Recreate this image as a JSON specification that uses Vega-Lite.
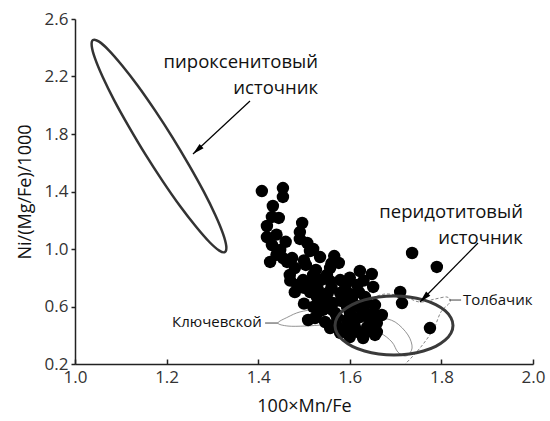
{
  "$schema": "https://vega.github.io/schema/vega-lite/v6.json",
  "autosize": {"type": "none"},
  "padding": {"left": 75, "top": 19, "right": 17, "bottom": 57},
  "width": 458,
  "height": 345,
  "background": "white",
  "config": {
    "view": {"stroke": null},
    "font": "Open Sans",
    "axis": {
      "domainColor": "#222",
      "tickColor": "#222",
      "domainWidth": 1.5,
      "tickWidth": 1.5,
      "grid": false,
      "labelFont": "Open Sans",
      "labelFontSize": 17,
      "labelColor": "#333",
      "titleFont": "Open Sans",
      "titleFontSize": 18,
      "titleFontWeight": "normal",
      "titleColor": "#111"
    }
  },
  "datasets": {
    "olivine": [
      {"x": 1.408, "y": 1.403}, {"x": 1.454, "y": 1.424}, {"x": 1.454, "y": 1.362}, {"x": 1.432, "y": 1.299},
      {"x": 1.430, "y": 1.223}, {"x": 1.445, "y": 1.216}, {"x": 1.419, "y": 1.160}, {"x": 1.419, "y": 1.083},
      {"x": 1.430, "y": 1.028}, {"x": 1.448, "y": 0.993}, {"x": 1.426, "y": 0.910}, {"x": 1.454, "y": 0.937},
      {"x": 1.474, "y": 0.937}, {"x": 1.496, "y": 1.181}, {"x": 1.491, "y": 1.118}, {"x": 1.491, "y": 1.070},
      {"x": 1.507, "y": 1.042}, {"x": 1.513, "y": 0.986}, {"x": 1.535, "y": 0.944}, {"x": 1.566, "y": 0.951},
      {"x": 1.480, "y": 0.868}, {"x": 1.504, "y": 0.889}, {"x": 1.526, "y": 0.854}, {"x": 1.557, "y": 0.868},
      {"x": 1.576, "y": 0.903}, {"x": 1.622, "y": 0.847}, {"x": 1.648, "y": 0.826}, {"x": 1.651, "y": 0.736},
      {"x": 1.633, "y": 0.666}, {"x": 1.498, "y": 0.784}, {"x": 1.517, "y": 0.750}, {"x": 1.537, "y": 0.784},
      {"x": 1.557, "y": 0.777}, {"x": 1.579, "y": 0.784}, {"x": 1.528, "y": 0.666}, {"x": 1.552, "y": 0.694},
      {"x": 1.579, "y": 0.694}, {"x": 1.600, "y": 0.687}, {"x": 1.520, "y": 0.597}, {"x": 1.541, "y": 0.576},
      {"x": 1.563, "y": 0.624}, {"x": 1.594, "y": 0.597}, {"x": 1.616, "y": 0.603}, {"x": 1.638, "y": 0.624},
      {"x": 1.509, "y": 0.506}, {"x": 1.546, "y": 0.492}, {"x": 1.572, "y": 0.527}, {"x": 1.594, "y": 0.506},
      {"x": 1.622, "y": 0.527}, {"x": 1.651, "y": 0.555}, {"x": 1.670, "y": 0.541}, {"x": 1.579, "y": 0.416},
      {"x": 1.600, "y": 0.388}, {"x": 1.629, "y": 0.381}, {"x": 1.594, "y": 0.457}, {"x": 1.638, "y": 0.457},
      {"x": 1.659, "y": 0.485}, {"x": 1.710, "y": 0.701}, {"x": 1.714, "y": 0.624}, {"x": 1.736, "y": 0.972},
      {"x": 1.790, "y": 0.875}, {"x": 1.775, "y": 0.450}, {"x": 1.485, "y": 0.750}, {"x": 1.463, "y": 0.910},
      {"x": 1.605, "y": 0.659}, {"x": 1.659, "y": 0.423}, {"x": 1.557, "y": 0.450}, {"x": 1.535, "y": 0.645},
      {"x": 1.616, "y": 0.750}, {"x": 1.590, "y": 0.750}, {"x": 1.469, "y": 0.819}, {"x": 1.513, "y": 0.701},
      {"x": 1.568, "y": 0.555}, {"x": 1.524, "y": 0.520}, {"x": 1.611, "y": 0.457}, {"x": 1.644, "y": 0.506},
      {"x": 1.655, "y": 0.610}, {"x": 1.655, "y": 0.402},
      {"x": 1.470, "y": 0.780}, {"x": 1.500, "y": 0.730}, {"x": 1.530, "y": 0.720}, {"x": 1.560, "y": 0.730},
      {"x": 1.590, "y": 0.720}, {"x": 1.620, "y": 0.700}, {"x": 1.550, "y": 0.640}, {"x": 1.580, "y": 0.640},
      {"x": 1.600, "y": 0.630}, {"x": 1.530, "y": 0.560}, {"x": 1.560, "y": 0.580}, {"x": 1.600, "y": 0.560},
      {"x": 1.630, "y": 0.570}, {"x": 1.570, "y": 0.480}, {"x": 1.610, "y": 0.490}, {"x": 1.620, "y": 0.420},
      {"x": 1.580, "y": 0.440}, {"x": 1.640, "y": 0.430}, {"x": 1.520, "y": 0.820}, {"x": 1.550, "y": 0.820},
      {"x": 1.500, "y": 0.920}, {"x": 1.440, "y": 1.100}, {"x": 1.460, "y": 1.050}, {"x": 1.440, "y": 0.960},
      {"x": 1.520, "y": 1.000}, {"x": 1.560, "y": 0.900}, {"x": 1.600, "y": 0.800}, {"x": 1.630, "y": 0.780},
      {"x": 1.500, "y": 0.620}, {"x": 1.480, "y": 0.700}
    ],
    "pyroxenite": [
      {"i": 0, "x": 1.3275, "y": 0.979}, {"i": 1, "x": 1.3303, "y": 1.0195}, {"i": 2, "x": 1.3231, "y": 1.107},
      {"i": 3, "x": 1.3063, "y": 1.2365}, {"i": 4, "x": 1.2812, "y": 1.3986}, {"i": 5, "x": 1.2493, "y": 1.5816},
      {"i": 6, "x": 1.2131, "y": 1.775}, {"i": 7, "x": 1.1747, "y": 1.9642}, {"i": 8, "x": 1.1371, "y": 2.136},
      {"i": 9, "x": 1.1024, "y": 2.2786}, {"i": 10, "x": 1.0734, "y": 2.3843}, {"i": 11, "x": 1.0517, "y": 2.4442},
      {"i": 12, "x": 1.0393, "y": 2.4539}, {"i": 13, "x": 1.0365, "y": 2.4136}, {"i": 14, "x": 1.0437, "y": 2.3259},
      {"i": 15, "x": 1.0605, "y": 2.1965}, {"i": 16, "x": 1.0856, "y": 2.0344}, {"i": 17, "x": 1.1175, "y": 1.8515},
      {"i": 18, "x": 1.1537, "y": 1.6581}, {"i": 19, "x": 1.1921, "y": 1.4689}, {"i": 20, "x": 1.2297, "y": 1.297},
      {"i": 21, "x": 1.2644, "y": 1.1544}, {"i": 22, "x": 1.2934, "y": 1.0487}, {"i": 23, "x": 1.3151, "y": 0.9889}
    ],
    "peridotite": [
      {"i": 0, "x": 1.8253, "y": 0.468}, {"i": 1, "x": 1.8209, "y": 0.5211}, {"i": 2, "x": 1.8080, "y": 0.5706},
      {"i": 3, "x": 1.7876, "y": 0.6131}, {"i": 4, "x": 1.7609, "y": 0.6457}, {"i": 5, "x": 1.7299, "y": 0.6662},
      {"i": 6, "x": 1.6965, "y": 0.6732}, {"i": 7, "x": 1.6631, "y": 0.6662}, {"i": 8, "x": 1.6321, "y": 0.6457},
      {"i": 9, "x": 1.6054, "y": 0.6131}, {"i": 10, "x": 1.5850, "y": 0.5706}, {"i": 11, "x": 1.5721, "y": 0.5211},
      {"i": 12, "x": 1.5677, "y": 0.468}, {"i": 13, "x": 1.5721, "y": 0.4149}, {"i": 14, "x": 1.5850, "y": 0.3654},
      {"i": 15, "x": 1.6054, "y": 0.3229}, {"i": 16, "x": 1.6321, "y": 0.2903}, {"i": 17, "x": 1.6631, "y": 0.2698},
      {"i": 18, "x": 1.6965, "y": 0.2628}, {"i": 19, "x": 1.7299, "y": 0.2698}, {"i": 20, "x": 1.7609, "y": 0.2903},
      {"i": 21, "x": 1.7876, "y": 0.3229}, {"i": 22, "x": 1.8080, "y": 0.3654}, {"i": 23, "x": 1.8209, "y": 0.4149}
    ],
    "klyuchevskoy": [
      {"i": 0, "x": 1.443, "y": 0.485}, {"i": 1, "x": 1.465, "y": 0.527}, {"i": 2, "x": 1.491, "y": 0.562},
      {"i": 3, "x": 1.524, "y": 0.576}, {"i": 4, "x": 1.557, "y": 0.555}, {"i": 5, "x": 1.590, "y": 0.520},
      {"i": 6, "x": 1.627, "y": 0.506}, {"i": 7, "x": 1.666, "y": 0.520}, {"i": 8, "x": 1.699, "y": 0.492},
      {"i": 9, "x": 1.727, "y": 0.402}, {"i": 10, "x": 1.736, "y": 0.311}, {"i": 11, "x": 1.723, "y": 0.256},
      {"i": 12, "x": 1.705, "y": 0.283}, {"i": 13, "x": 1.692, "y": 0.353}, {"i": 14, "x": 1.666, "y": 0.416},
      {"i": 15, "x": 1.627, "y": 0.450}, {"i": 16, "x": 1.590, "y": 0.464}, {"i": 17, "x": 1.546, "y": 0.471},
      {"i": 18, "x": 1.502, "y": 0.464}, {"i": 19, "x": 1.465, "y": 0.464}
    ],
    "tolbachik": [
      {"i": 0, "x": 1.640, "y": 0.645}, {"i": 1, "x": 1.677, "y": 0.687}, {"i": 2, "x": 1.721, "y": 0.666},
      {"i": 3, "x": 1.753, "y": 0.631}, {"i": 4, "x": 1.786, "y": 0.652}, {"i": 5, "x": 1.812, "y": 0.666},
      {"i": 6, "x": 1.819, "y": 0.631}, {"i": 7, "x": 1.799, "y": 0.562}, {"i": 8, "x": 1.784, "y": 0.450},
      {"i": 9, "x": 1.762, "y": 0.346}, {"i": 10, "x": 1.740, "y": 0.263}, {"i": 11, "x": 1.721, "y": 0.200}
    ],
    "leaders": [
      {"x": 1.415, "y": 0.485, "x2": 1.443, "y2": 0.485},
      {"x": 1.817, "y": 0.645, "x2": 1.843, "y2": 0.645}
    ],
    "arrows": [
      {"name": "pyro", "x": 1.3821, "y": 2.0296, "x2": 1.2576, "y2": 1.6609},
      {"name": "perido", "x": 1.8799, "y": 1.0417, "x2": 1.7533, "y2": 0.6313}
    ],
    "bigLabels": [
      {"x": 1.5306, "y": 2.3009, "label": "пироксенитовый"},
      {"x": 1.5306, "y": 2.12, "label": "источник"},
      {"x": 1.978, "y": 1.2574, "label": "перидотитовый"},
      {"x": 1.978, "y": 1.0765, "label": "источник"}
    ]
  },
  "encoding": {
    "x": {
      "field": "x", "type": "quantitative",
      "scale": {"domain": [1.0, 2.0], "nice": false, "zero": false},
      "axis": {"title": "100×Mn/Fe", "values": [1.0, 1.2, 1.4, 1.6, 1.8, 2.0], "format": ".1f", "tickSize": -5, "labelPadding": 10, "titlePadding": 12, "labelFlush": false}
    },
    "y": {
      "field": "y", "type": "quantitative",
      "scale": {"domain": [0.2, 2.6], "nice": false, "zero": false},
      "axis": {"title": "Ni/(Mg/Fe)/1000", "values": [0.2, 0.6, 1.0, 1.4, 1.8, 2.2, 2.6], "format": ".1f", "tickSize": 4, "labelPadding": 3, "titlePadding": 10, "labelFlush": false}
    }
  },
  "layer": [
    {
      "data": {"name": "klyuchevskoy"},
      "mark": {"type": "line", "interpolate": "cardinal-closed", "stroke": "#777", "strokeWidth": 0.8},
      "encoding": {"order": {"field": "i", "type": "quantitative"}}
    },
    {
      "data": {"name": "tolbachik"},
      "mark": {"type": "line", "interpolate": "cardinal", "stroke": "#666", "strokeWidth": 0.8, "strokeDash": [3, 2]},
      "encoding": {"order": {"field": "i", "type": "quantitative"}}
    },
    {
      "data": {"name": "leaders"},
      "mark": {"type": "rule", "stroke": "#444", "strokeWidth": 1},
      "encoding": {"x2": {"field": "x2"}, "y2": {"field": "y2"}}
    },
    {
      "data": {"name": "pyroxenite"},
      "mark": {"type": "line", "interpolate": "cardinal-closed", "stroke": "#333", "strokeWidth": 2.5},
      "encoding": {"order": {"field": "i", "type": "quantitative"}}
    },
    {
      "data": {"name": "olivine"},
      "mark": {"type": "circle", "size": 155, "color": "#000", "opacity": 1}
    },
    {
      "data": {"name": "peridotite"},
      "mark": {"type": "line", "interpolate": "cardinal-closed", "stroke": "#3a3a3a", "strokeWidth": 3},
      "encoding": {"order": {"field": "i", "type": "quantitative"}}
    },
    {
      "data": {"name": "arrows"},
      "mark": {"type": "rule", "stroke": "#000", "strokeWidth": 1.2},
      "encoding": {"x2": {"field": "x2"}, "y2": {"field": "y2"}}
    },
    {
      "data": {"name": "arrows"},
      "transform": [{"filter": "datum.name === 'pyro'"}],
      "mark": {"type": "point", "shape": "M0,0L-0.45,1.8L0.45,1.8Z", "size": 169, "filled": true, "color": "#000", "opacity": 1, "angle": 227},
      "encoding": {"x": {"field": "x2", "type": "quantitative"}, "y": {"field": "y2", "type": "quantitative"}}
    },
    {
      "data": {"name": "arrows"},
      "transform": [{"filter": "datum.name === 'perido'"}],
      "mark": {"type": "point", "shape": "M0,0L-0.45,1.8L0.45,1.8Z", "size": 169, "filled": true, "color": "#000", "opacity": 1, "angle": 224.5},
      "encoding": {"x": {"field": "x2", "type": "quantitative"}, "y": {"field": "y2", "type": "quantitative"}}
    },
    {
      "data": {"name": "bigLabels"},
      "mark": {"type": "text", "align": "right", "baseline": "middle", "font": "Open Sans", "fontSize": 18.5, "color": "#111"},
      "encoding": {"text": {"field": "label"}}
    },
    {
      "data": {"values": [{"x": 1.408, "y": 0.492, "label": "Ключевской"}]},
      "mark": {"type": "text", "align": "right", "baseline": "middle", "font": "Open Sans", "fontSize": 15, "color": "#111"},
      "encoding": {"text": {"field": "label"}}
    },
    {
      "data": {"values": [{"x": 1.847, "y": 0.645, "label": "Толбачик"}]},
      "mark": {"type": "text", "align": "left", "baseline": "middle", "font": "Open Sans", "fontSize": 15, "color": "#111"},
      "encoding": {"text": {"field": "label"}}
    }
  ]
}
